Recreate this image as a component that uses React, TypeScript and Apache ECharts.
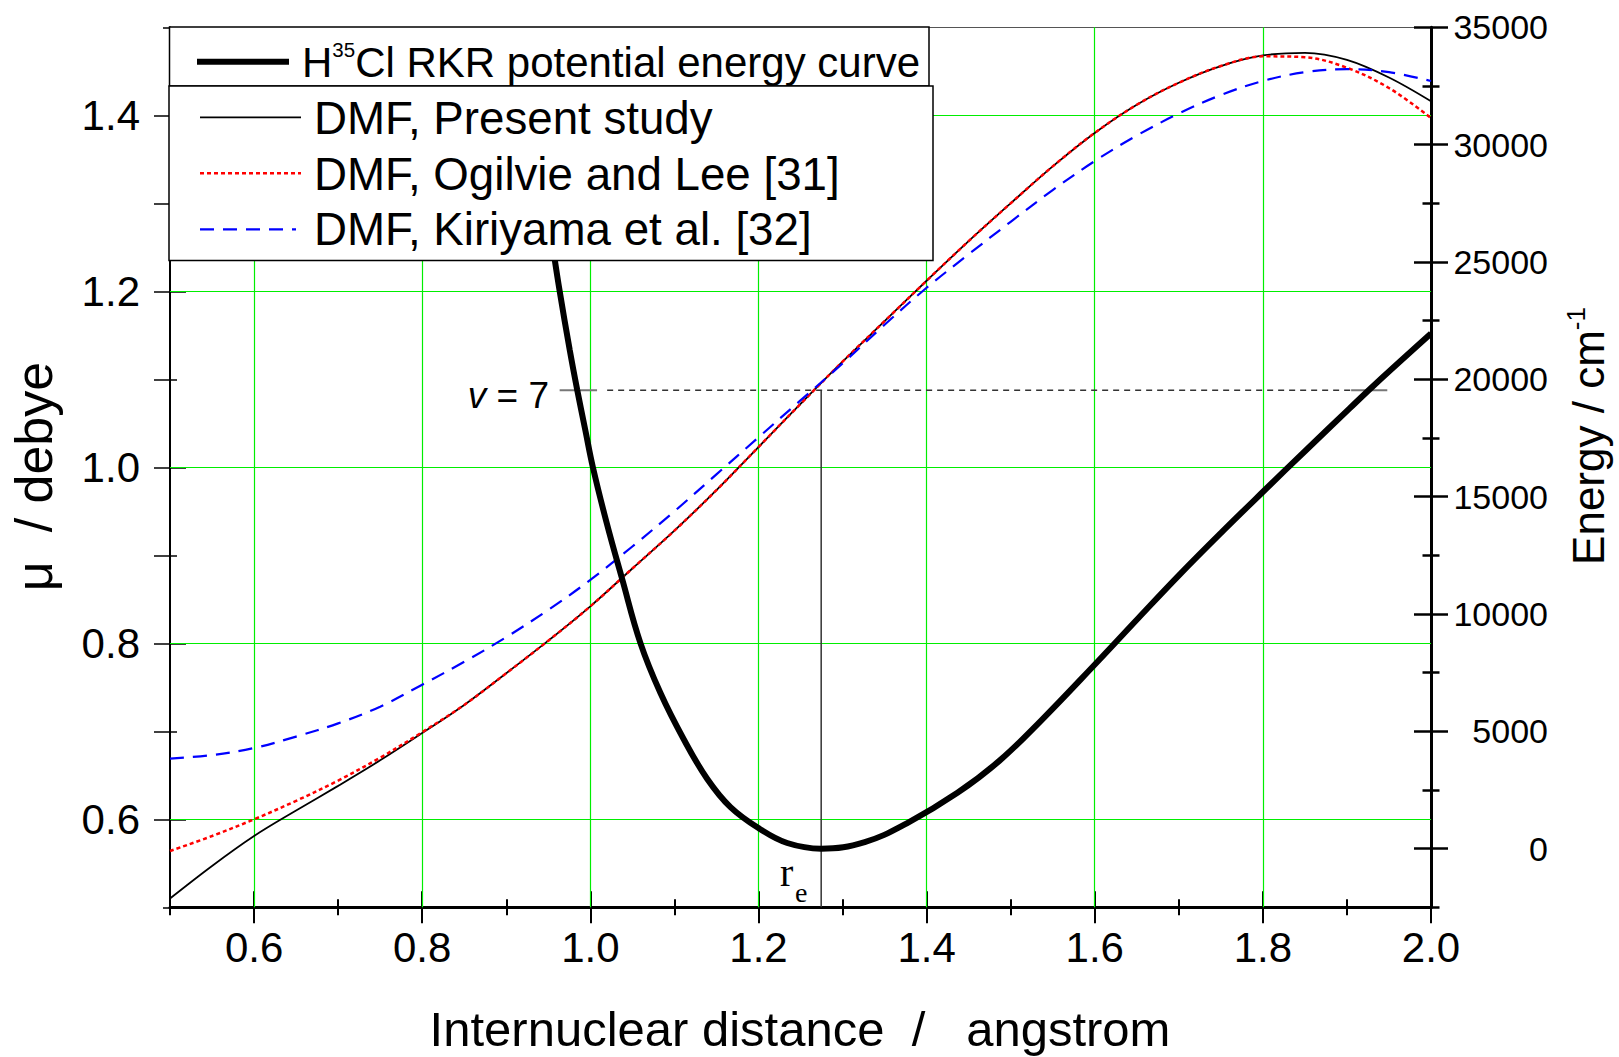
import React, { useEffect, useRef } from "react";
import * as echarts from "echarts";

// ---------- data ----------
const DMF_R = [
  0.5, 0.55, 0.6, 0.65, 0.7, 0.75, 0.8, 0.85, 0.9, 0.95, 1.0, 1.05, 1.1, 1.15, 1.2, 1.25,
  1.3, 1.35, 1.4, 1.45, 1.5, 1.55, 1.6, 1.65, 1.7, 1.75, 1.8, 1.85, 1.9, 1.95, 2.0,
];
const DMF_PRESENT = [
  0.51, 0.547, 0.581, 0.61, 0.638, 0.667, 0.698, 0.73, 0.766, 0.803, 0.842, 0.885, 0.928,
  0.974, 1.023, 1.072, 1.12, 1.166, 1.212, 1.257, 1.3, 1.342, 1.38, 1.412, 1.437, 1.456,
  1.468, 1.471, 1.463, 1.443, 1.416,
];
const DMF_OGILVIE = [
  0.564, 0.581, 0.6, 0.621, 0.644, 0.67, 0.699, 0.73, 0.766, 0.803, 0.842, 0.885, 0.928,
  0.974, 1.023, 1.072, 1.12, 1.166, 1.212, 1.257, 1.3, 1.342, 1.38, 1.412, 1.437, 1.456,
  1.467, 1.466, 1.454, 1.431, 1.397,
];
const DMF_KIRIYAMA = [
  0.669, 0.673, 0.681, 0.694, 0.709, 0.728, 0.753, 0.779, 0.807, 0.838, 0.872, 0.91, 0.95,
  0.992, 1.034, 1.076, 1.118, 1.162, 1.204, 1.242, 1.279, 1.315, 1.348, 1.377, 1.402, 1.423,
  1.439, 1.449, 1.4525, 1.449, 1.439,
];
const RKR_R = [
  0.956, 0.9635, 0.9755, 0.9845, 0.994, 1.003, 1.019, 1.0377, 1.0595, 1.0833, 1.1111, 1.1389,
  1.1667, 1.2012, 1.2342, 1.2746, 1.3264, 1.3765, 1.4367, 1.4868, 1.5368, 1.601, 1.652,
  1.7021, 1.7523, 1.8014, 1.8525, 1.9026, 1.9326, 2.0,
];
const RKR_E = [
  25500, 23760, 21250, 19530, 17840, 16260, 13940, 11510, 8770, 6640, 4660, 2980, 1770, 850,
  240, 0, 280, 1080, 2380, 3750, 5480, 7880, 9830, 11720, 13530, 15250, 17020, 18740,
  19760, 21950,
];
const R_E = 1.2746;
const V7_ENERGY = 19530;
const V7_LEFT_SOLID = [0.9635, 1.008];
const V7_DASHED = [1.02, 1.905];
const V7_RIGHT_SOLID = [1.905, 1.948];

const X_MAJOR = [0.6, 0.8, 1.0, 1.2, 1.4, 1.6, 1.8, 2.0];
const X_MINOR = [0.5, 0.7, 0.9, 1.1, 1.3, 1.5, 1.7, 1.9];
const X_GRID = [0.6, 0.8, 1.0, 1.2, 1.4, 1.6, 1.8];
const MU_MAJOR = [0.6, 0.8, 1.0, 1.2, 1.4];
const MU_MINOR = [0.7, 0.9, 1.1, 1.3];
const MU_ENDS = [0.5, 1.5];
const E_MAJOR = [0, 5000, 10000, 15000, 20000, 25000, 30000, 35000];
const E_MINOR = [-2500, 2500, 7500, 12500, 17500, 22500, 27500, 32500];

const X_MIN = 0.5, X_MAX = 2.0, MU_MIN = 0.5, MU_MAX = 1.5, E_MIN = -2500, E_MAX = 35000;

const FONT = "'Liberation Sans', Arial, Helvetica, sans-serif";
const SERIF = "'Liberation Serif', 'Times New Roman', serif";
const NB = "\u00A0";

const pairs = (xs: number[], ys: number[]) => xs.map((x, i) => [x, ys[i]]);

function xAxisTicks(values: number[], inside: boolean, length: number, extra: any = {}) {
  return {
    type: "value", min: X_MIN, max: X_MAX, gridIndex: 0, position: "bottom",
    splitLine: { show: false },
    axisLine: { show: false, onZero: false },
    axisLabel: { show: false },
    axisTick: { show: true, inside, length, customValues: values, lineStyle: { color: "#000", width: 2 } },
    ...extra,
  };
}
function yAxisTicks(min: number, max: number, position: string, values: number[], inside: boolean, length: number, width: number, extra: any = {}) {
  return {
    type: "value", min, max, gridIndex: 0, position,
    splitLine: { show: false },
    axisLine: { show: false, onZero: false },
    axisLabel: { show: false },
    axisTick: { show: true, inside, length, customValues: values, lineStyle: { color: "#000", width } },
    ...extra,
  };
}

function line(data: any[], yAxisIndex: number, color: string, width: number, type: any, z: number, smooth: any = 0.35) {
  return {
    type: "line", data, xAxisIndex: 0, yAxisIndex, symbol: "none", showSymbol: false,
    smooth, silent: true, z,
    lineStyle: { color, width, type, cap: "butt" },
    emphasis: { disabled: true },
  };
}

function buildOption(): any {
  const MU_TICKS = [...MU_MAJOR, ...MU_MINOR].sort((a, b) => a - b);
  const gridLines = [
    ...X_GRID.map((v) => ({ xAxis: v })),
    ...MU_MAJOR.map((v) => ({ yAxis: v })),
  ];
  const txt = (x: number, y: number, text: string, size: number, extra: any = {}, styleExtra: any = {}) => ({
    type: "text", x, y, z: 101, silent: true, ...extra,
    style: {
      text, fontSize: size, fontFamily: FONT, fill: "#000",
      align: "left", textAlign: "left", verticalAlign: "middle", textVerticalAlign: "middle",
      ...styleExtra,
    },
  });
  return {
    animation: false,
    backgroundColor: "#fff",
    textStyle: { fontFamily: FONT },
    grid: { left: 170, top: 27.3, width: 1261, height: 880, containLabel: false, outerBoundsMode: "none" },
    xAxis: [
      xAxisTicks(X_MAJOR, false, 16, {
        axisLine: { show: true, onZero: false, lineStyle: { color: "#000", width: 3 } },
        axisLabel: {
          show: true, customValues: X_MAJOR, formatter: (v: number) => v.toFixed(1),
          fontSize: 42, color: "#000", margin: 19, fontFamily: FONT,
        },
      }),
      xAxisTicks(X_MAJOR, true, 16),
      xAxisTicks(X_MINOR, false, 8),
      xAxisTicks(X_MINOR, true, 8),
      {
        type: "value", min: X_MIN, max: X_MAX, gridIndex: 0, position: "top",
        splitLine: { show: false }, axisLabel: { show: false }, axisTick: { show: false },
        axisLine: { show: true, onZero: false, lineStyle: { color: "#555", width: 1 } },
      },
    ],
    yAxis: [
      yAxisTicks(MU_MIN, MU_MAX, "left", MU_TICKS, false, 16, 1.5, {
        axisLine: { show: true, onZero: false, lineStyle: { color: "#000", width: 2 } },
        axisLabel: {
          show: true, customValues: MU_MAJOR, formatter: (v: number) => v.toFixed(1),
          fontSize: 42, color: "#000", margin: 30, fontFamily: FONT,
        },
      }),
      yAxisTicks(MU_MIN, MU_MAX, "left", MU_ENDS, false, 7, 1.5),
      yAxisTicks(MU_MIN, MU_MAX, "left", MU_MAJOR, true, 16, 1.5),
      yAxisTicks(MU_MIN, MU_MAX, "left", MU_MINOR, true, 7, 1.5),
      yAxisTicks(E_MIN, E_MAX, "right", E_MAJOR, false, 17, 2.5, {
        axisLine: { show: true, onZero: false, lineStyle: { color: "#000", width: 3 } },
        axisLabel: {
          show: true, customValues: E_MAJOR, formatter: (v: number) => String(v),
          fontSize: 34, color: "#000", margin: 117, align: "right", fontFamily: FONT,
        },
      }),
      yAxisTicks(E_MIN, E_MAX, "right", E_MAJOR, true, 17, 2.5),
      yAxisTicks(E_MIN, E_MAX, "right", E_MINOR, false, 8.5, 2.5),
      yAxisTicks(E_MIN, E_MAX, "right", E_MINOR, true, 8.5, 2.5),
    ],
    series: [
      {
        type: "line", data: [], xAxisIndex: 0, yAxisIndex: 0, silent: true, z: 1,
        markLine: {
          silent: true, symbol: ["none", "none"], z: 1, animation: false,
          label: { show: false },
          lineStyle: { color: "#00ee00", width: 1.2, type: "solid" },
          emphasis: { disabled: true },
          data: gridLines,
        },
      },
      line(pairs(DMF_R, DMF_PRESENT), 0, "#000", 1.8, "solid", 3),
      line(pairs(DMF_R, DMF_OGILVIE), 0, "#ff0000", 2.5, [4, 3], 4),
      line(pairs(DMF_R, DMF_KIRIYAMA), 0, "#0000ff", 2.2, [14, 9], 4),
      line(pairs(RKR_R, RKR_E), 4, "#000", 6, "solid", 5, 0.4),
      line([[V7_DASHED[0], V7_ENERGY], [V7_DASHED[1], V7_ENERGY]], 4, "#333", 1.5, [6, 5], 3, false),
      line([[V7_LEFT_SOLID[0], V7_ENERGY], [V7_LEFT_SOLID[1], V7_ENERGY]], 4, "#777", 2, "solid", 3, false),
      line([[V7_RIGHT_SOLID[0], V7_ENERGY], [V7_RIGHT_SOLID[1], V7_ENERGY]], 4, "#777", 2, "solid", 3, false),
      line([[R_E, E_MIN], [R_E, V7_ENERGY]], 4, "#333", 1.5, "solid", 3, false),
    ],
    graphic: [
      // legend boxes
      { type: "rect", z: 100, silent: true, shape: { x: 169.5, y: 27, width: 759.5, height: 59 }, style: { fill: "#fff", stroke: "#000", lineWidth: 1.5 } },
      { type: "rect", z: 100, silent: true, shape: { x: 169, y: 86, width: 764, height: 174.5 }, style: { fill: "#fff", stroke: "#000", lineWidth: 1.5 } },
      { type: "line", z: 101, silent: true, shape: { x1: 197, y1: 61.7, x2: 289, y2: 61.7 }, style: { stroke: "#000", lineWidth: 6 } },
      { type: "line", z: 101, silent: true, shape: { x1: 200, y1: 117.3, x2: 301, y2: 117.3 }, style: { stroke: "#000", lineWidth: 1.8 } },
      { type: "line", z: 101, silent: true, shape: { x1: 200, y1: 173.3, x2: 301, y2: 173.3 }, style: { stroke: "#ff0000", lineWidth: 2.5, lineDash: [4, 3] } },
      { type: "line", z: 101, silent: true, shape: { x1: 200, y1: 229.3, x2: 296, y2: 229.3 }, style: { stroke: "#0000ff", lineWidth: 2.2, lineDash: [14, 9] } },
      txt(302, 62.5, "{a|H}{s|35}{a|Cl RKR potential energy curve}", 42, {}, {
        rich: {
          a: { fontSize: 42, fontFamily: FONT, fill: "#000", lineHeight: 47 },
          s: { fontSize: 20.5, fontFamily: FONT, fill: "#000", verticalAlign: "top", lineHeight: 20 },
        },
      }),
      txt(314, 118.7, "DMF, Present study", 45.7),
      txt(314, 174.4, "DMF, Ogilvie and Lee [31]", 45.7),
      txt(314, 229.4, "DMF, Kiriyama et al. [32]", 45.7),
      // annotations
      txt(549, 395.5, "{i|v}{n|" + NB + "=" + NB + "7}", 37, {}, {
        align: "right", textAlign: "right",
        rich: {
          i: { fontSize: 37, fontFamily: FONT, fontStyle: "italic", fill: "#000" },
          n: { fontSize: 37, fontFamily: FONT, fill: "#000" },
        },
      }),
      txt(780, 872.5, "r", 40, {}, { fontFamily: SERIF }),
      txt(795, 892.5, "e", 28, {}, { fontFamily: SERIF }),
      // axis titles
      txt(800, 1029.4, "Internuclear distance" + NB + NB + "/" + NB + NB + NB + "angstrom", 49, {}, { align: "center", textAlign: "center" }),
      txt(34, 476.5, "\u03BC" + NB + NB + "/ debye", 52, { rotation: Math.PI / 2 }, { align: "center", textAlign: "center" }),
      txt(1588, 436, "{a|Energy / cm}{s|-1}", 44, { rotation: Math.PI / 2 }, {
        align: "center", textAlign: "center",
        rich: {
          a: { fontSize: 44, fontFamily: FONT, fill: "#000", lineHeight: 50 },
          s: { fontSize: 26, fontFamily: FONT, fill: "#000", verticalAlign: "top", lineHeight: 26 },
        },
      }),
    ],
  };
}

export default function App() {
  const ref = useRef<HTMLDivElement>(null);
  useEffect(() => {
    if (!ref.current) return;
    const chart = echarts.init(ref.current, null, { renderer: "svg" });
    chart.setOption(buildOption());
    return () => chart.dispose();
  }, []);
  return (
    <div
      ref={ref}
      style={{ position: "fixed", left: 0, top: 0, width: 1619, height: 1057, background: "#fff" }}
    />
  );
}
